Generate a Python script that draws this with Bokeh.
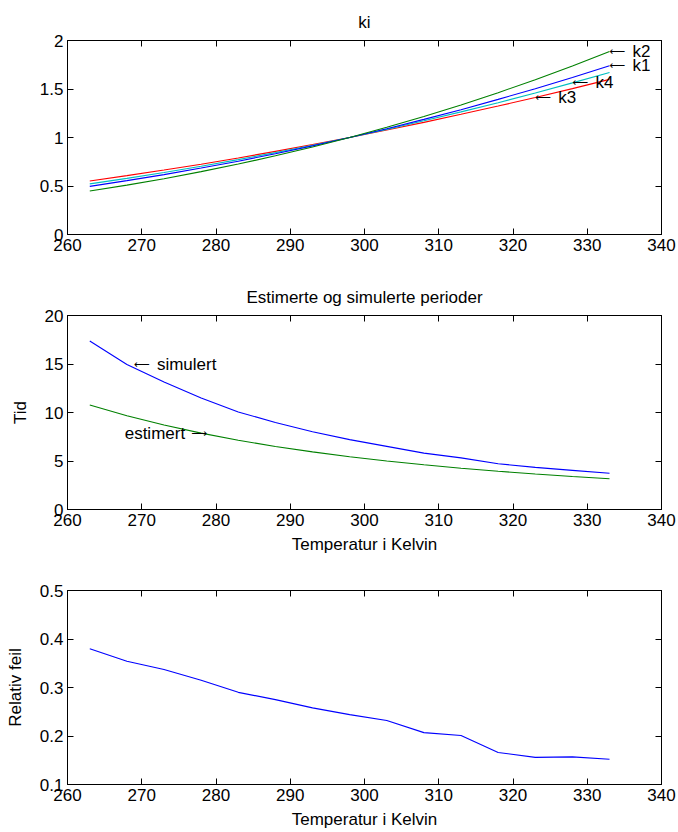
from bokeh.plotting import figure
from bokeh.layouts import column
from bokeh.models import Range1d, LinearAxis, FixedTicker, CustomJSTickFormatter
from bokeh.core.properties import value
from bokeh.embed import file_html
from bokeh.resources import INLINE

# ---------------- data ----------------
temperature = [263, 268, 273, 278, 283, 288, 293, 298, 303, 308, 313, 318, 323, 328, 333]

k1 = [0.496, 0.555, 0.617, 0.685, 0.756, 0.833, 0.914, 1.000, 1.091, 1.187, 1.287, 1.393, 1.503, 1.619, 1.740]
k2 = [0.448, 0.509, 0.575, 0.648, 0.726, 0.811, 0.902, 1.000, 1.105, 1.217, 1.336, 1.462, 1.596, 1.738, 1.887]
k3 = [0.552, 0.607, 0.665, 0.725, 0.789, 0.857, 0.927, 1.000, 1.077, 1.156, 1.239, 1.324, 1.413, 1.504, 1.599]
k4 = [0.522, 0.579, 0.640, 0.704, 0.772, 0.844, 0.920, 1.000, 1.084, 1.172, 1.264, 1.359, 1.459, 1.563, 1.671]

simulert = [17.37, 14.95, 13.14, 11.49, 10.06, 8.97, 8.01, 7.20, 6.51, 5.81, 5.32, 4.72, 4.34, 4.03, 3.74]
estimert = [10.77, 9.66, 8.71, 7.87, 7.14, 6.50, 5.94, 5.44, 5.00, 4.61, 4.25, 3.94, 3.66, 3.40, 3.17]

relativ_feil = [0.380, 0.354, 0.337, 0.315, 0.290, 0.275, 0.258, 0.244, 0.232, 0.207, 0.201, 0.166, 0.156, 0.157, 0.152]

x_ticks = [260, 270, 280, 290, 300, 310, 320, 330, 340]
k_ticks = [0, 0.5, 1, 1.5, 2]
tid_ticks = [0, 5, 10, 15, 20]
feil_ticks = [0.1, 0.2, 0.3, 0.4, 0.5]

FONT = "Liberation Sans"
ARROW_FONT = "DejaVu Sans"
FS = "17px"
BLUE = "#0000ff"
GREEN = "#008000"
RED = "#ff0000"
CYAN = "#00bfbf"

fmt_code = "return String(Math.round(tick*1000)/1000);"


def style_axis(ax, ticks, show_labels=True):
    ax.ticker = FixedTicker(ticks=ticks)
    ax.formatter = CustomJSTickFormatter(code=fmt_code)
    ax.major_tick_in = 6
    ax.major_tick_out = 0
    ax.minor_tick_line_color = None
    ax.axis_line_color = "black"
    ax.major_tick_line_color = "black"
    ax.axis_line_width = 1
    ax.major_label_text_font = FONT
    ax.axis_label_text_font = FONT
    ax.axis_label_text_font_style = "normal"
    ax.axis_label_text_font_size = FS
    ax.axis_label_text_color = "black"
    if show_labels:
        ax.major_label_text_color = "black"
        ax.major_label_text_font_size = FS
        ax.major_label_standoff = 4
    else:
        ax.major_label_text_color = None
        ax.major_label_text_font_size = "1px"
        ax.major_label_standoff = 0


def make_fig(height, y0, y1, yticks, title, xlabel, ylabel, b_top, b_bottom):
    kwargs = {}
    if title:
        kwargs["title"] = title
    p = figure(width=678, height=height,
               x_range=Range1d(260, 340), y_range=Range1d(y0, y1),
               output_backend="svg", toolbar_location=None,
               min_border_left=67, min_border_right=17,
               min_border_top=b_top, min_border_bottom=b_bottom,
               **kwargs)
    p.background_fill_color = "white"
    p.border_fill_color = "white"
    p.outline_line_color = "black"
    p.xgrid.visible = False
    p.ygrid.visible = False
    style_axis(p.xaxis[0], x_ticks)
    style_axis(p.yaxis[0], yticks)
    if xlabel:
        p.xaxis[0].axis_label = xlabel
        p.xaxis[0].axis_label_standoff = 6
    if ylabel:
        p.yaxis[0].axis_label = ylabel
        p.yaxis[0].axis_label_standoff = 12
    top = LinearAxis()
    style_axis(top, x_ticks, show_labels=False)
    p.add_layout(top, "above")
    right = LinearAxis()
    style_axis(right, yticks, show_labels=False)
    p.add_layout(right, "right")
    if p.title is not None:
        p.title.text_font = FONT
        p.title.text_font_size = FS
        p.title.text_font_style = "normal"
        p.title.text_color = "black"
        p.title.align = "center"
        p.title.standoff = 17
    return p


def annotate(p, x, y, label, arrow, align="left", arrow_dx=0, label_dx=23):
    # arrow drawn in a font with a long thin arrow glyph, label in the main font
    p.text(x=[x], y=[y], text=[arrow], text_font=value(ARROW_FONT), text_font_size="11px",
           text_color="black", text_align=align, text_baseline="middle", x_offset=arrow_dx)
    p.text(x=[x], y=[y], text=[label], text_font=value(FONT), text_font_size=FS,
           text_color="black", text_align=align, text_baseline="middle", x_offset=label_dx)


LEFT = "\u27f5"
RIGHT = "\u27f6"

# ---------------- panel 1: ki ----------------
p1 = make_fig(275, 0, 2, k_ticks, "ki", None, None, 40, 41)
p1.line(temperature, k3, line_color=RED, line_width=1.1)
p1.line(temperature, k4, line_color=CYAN, line_width=1.1)
p1.line(temperature, k1, line_color=BLUE, line_width=1.1)
p1.line(temperature, k2, line_color=GREEN, line_width=1.1)
annotate(p1, temperature[-1], k2[-1], "k2", LEFT)
annotate(p1, temperature[-1], k1[-1], "k1", LEFT)
annotate(p1, temperature[-2], k4[-2], "k4", LEFT)
annotate(p1, temperature[-3], k3[-3], "k3", LEFT)

# ---------------- panel 2: periods ----------------
p2 = make_fig(284, 0, 20, tid_ticks, "Estimerte og simulerte perioder",
              "Temperatur i Kelvin", "Tid", 40, 50)
p2.line(temperature, simulert, line_color=BLUE, line_width=1.1)
p2.line(temperature, estimert, line_color=GREEN, line_width=1.1)
annotate(p2, temperature[1], simulert[1], "simulert", LEFT, arrow_dx=7, label_dx=30)
annotate(p2, temperature[3], estimert[3], "estimert", RIGHT, align="right", arrow_dx=6, label_dx=-16)

# ---------------- panel 3: relative error ----------------
p3 = make_fig(273, 0.1, 0.5, feil_ticks, None, "Temperatur i Kelvin", "Relativ feil", 31, 48)
p3.line(temperature, relativ_feil, line_color=BLUE, line_width=1.1)

layout = column(p1, p2, p3, spacing=0)

open("out.html", "w").write(file_html(layout, INLINE))
